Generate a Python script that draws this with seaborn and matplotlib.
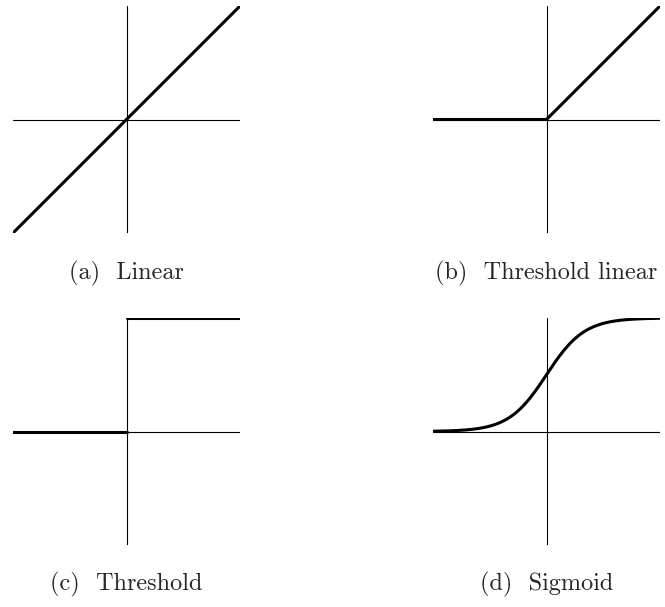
import numpy as np
import matplotlib
matplotlib.use("Agg")
import matplotlib.pyplot as plt
import seaborn as sns

sns.set_style("white")
plt.rcParams["font.family"] = ["cmr10", "DejaVu Serif"]
plt.rcParams["axes.unicode_minus"] = False

# Activation functions on the interval [-1, 1]
x_linear = [-1.0, 1.0]
y_linear = [-1.0, 1.0]

x_thresh_linear = [-1.0, 0.0, 1.0]
y_thresh_linear = [0.0, 0.0, 1.0]

# the step is drawn as two separate pieces (no vertical riser)
x_threshold = [-1.0, 0.0, 0.0, 1.0]
y_threshold = [0.0, 0.0, 1.0, 1.0]
piece_threshold = [0, 0, 1, 1]

sigmoid_steepness = 6.0
x_sigmoid = np.linspace(-1.0, 1.0, 400)
y_sigmoid = 1.0 / (1.0 + np.exp(-sigmoid_steepness * x_sigmoid))

captions = ["(a)  Linear", "(b)  Threshold linear", "(c)  Threshold", "(d)  Sigmoid"]

W, H = 665, 607
fig = plt.figure(figsize=(W / 100, H / 100), dpi=100)

# panel boxes in pixels: left, top, width, height
boxes = [(13, 6, 227, 227), (433, 6, 227, 227),
         (13, 318, 227, 227), (433, 318, 227, 227)]
caption_y = [273, 584]

series = [(x_linear, y_linear, None), (x_thresh_linear, y_thresh_linear, None),
          (x_threshold, y_threshold, piece_threshold), (x_sigmoid, y_sigmoid, None)]

for i, ((l, t, w, h), (xs, ys, units), cap) in enumerate(zip(boxes, series, captions)):
    ax = fig.add_axes([l / W, (H - t - h) / H, w / W, h / H])
    ax.axhline(0, color="black", lw=0.8, zorder=1)
    ax.axvline(0, color="black", lw=0.8, zorder=1)
    sns.lineplot(x=xs, y=ys, units=units, ax=ax, color="black", lw=2.2,
                 estimator=None, sort=False, zorder=2)
    ax.set_xlim(-1, 1)
    ax.set_ylim(-1, 1)
    ax.set_axis_off()
    cx = (l + w / 2) / W
    cy = (H - caption_y[i // 2]) / H
    fig.text(cx, cy, cap, ha="center", va="center", fontsize=17.5)

fig.savefig("out.png", dpi=100)
